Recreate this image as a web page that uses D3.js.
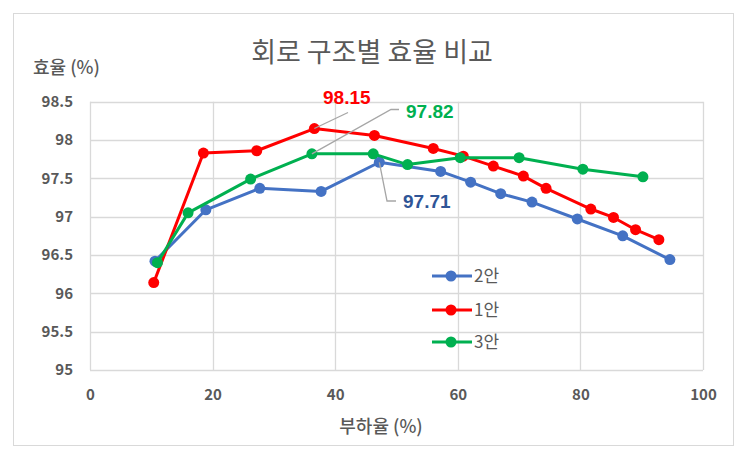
<!DOCTYPE html>
<html><head><meta charset="utf-8">
<script src="https://cdn.jsdelivr.net/npm/d3@7"></script>
<style>body{margin:0;background:#fff}svg{display:block}</style>
</head><body><svg id="c" width="743" height="458"></svg>
<script>
const seriesNames = ["2안", "1안", "3안"];
const seriesColors = ["#4472C4", "#FF0000", "#00B050"];
const load2 = [10.6, 18.9, 27.7, 37.7, 47.2, 57.2, 62.1, 67.0, 72.1, 79.5, 86.9, 94.6];
const eff2  = [96.42, 97.09, 97.37, 97.33, 97.71, 97.59, 97.45, 97.30, 97.19, 96.97, 96.75, 96.44];
const load1 = [10.4, 18.5, 27.2, 36.6, 46.4, 56.0, 60.9, 65.8, 70.7, 74.4, 81.7, 85.4, 89.0, 92.8];
const eff1  = [96.14, 97.83, 97.86, 98.15, 98.06, 97.89, 97.79, 97.66, 97.53, 97.37, 97.10, 96.99, 96.83, 96.70];
const load3 = [11.0, 16.0, 26.2, 36.2, 46.2, 51.8, 60.4, 70.0, 80.4, 90.2];
const eff3  = [96.40, 97.05, 97.49, 97.82, 97.82, 97.68, 97.77, 97.77, 97.62, 97.52];
const xTicks = [0, 20, 40, 60, 80, 100];
const yTicks = [95, 95.5, 96, 96.5, 97, 97.5, 98, 98.5];
const annotations = [
  {series: 1, index: 3, text: "98.15", color: "#FF0000"},
  {series: 2, index: 3, text: "97.82", color: "#00B050"},
  {series: 0, index: 4, text: "97.71", color: "#2F5597"}
];
const series = [
  {name: seriesNames[0], color: seriesColors[0], x: load2, y: eff2},
  {name: seriesNames[1], color: seriesColors[1], x: load1, y: eff1},
  {name: seriesNames[2], color: seriesColors[2], x: load3, y: eff3}
];

const svg = d3.select("#c");
const font = "'Noto Sans CJK KR', 'Noto Sans', sans-serif";
const grey = "#595959";

svg.append("rect").attr("x", 13.5).attr("y", 13.5).attr("width", 720).attr("height", 432)
  .attr("fill", "#fff").attr("stroke", "#d9d9d9").attr("stroke-width", 1);

const x = d3.scaleLinear().domain([0, 100]).range([90, 703]);
const y = d3.scaleLinear().domain([95, 98.5]).range([370, 101.7]);

// gridlines
const g = svg.append("g");
g.selectAll("line.h").data(yTicks).join("line")
  .attr("x1", x(0)).attr("x2", x(100)).attr("y1", d => Math.round(y(d)) + 0.5).attr("y2", d => Math.round(y(d)) + 0.5)
  .attr("stroke", "#d9d9d9").attr("stroke-width", 1.3);
g.selectAll("line.v").data(xTicks).join("line")
  .attr("y1", y(95)).attr("y2", y(98.5)).attr("x1", d => Math.round(x(d)) + 0.5).attr("x2", d => Math.round(x(d)) + 0.5)
  .attr("stroke", "#d9d9d9").attr("stroke-width", 1.3);

const xAxis = svg.append("g").attr("transform", `translate(0,${y(95)})`)
  .call(d3.axisBottom(x).tickValues(xTicks).tickSize(0).tickPadding(19));
xAxis.select(".domain").remove();
xAxis.selectAll("text").attr("font-family", font).attr("font-size", 15).attr("font-weight", 600).attr("fill", grey);

const yAxis = svg.append("g").attr("transform", `translate(${x(0)},0)`)
  .call(d3.axisLeft(y).tickValues(yTicks).tickSize(0).tickPadding(17).tickFormat(d => String(d)));
yAxis.select(".domain").remove();
yAxis.selectAll("text").attr("font-family", font).attr("font-size", 15).attr("font-weight", 600).attr("fill", grey);

// titles
svg.append("text").attr("x", 372).attr("y", 62).attr("text-anchor", "middle")
  .attr("font-family", font).attr("font-size", 27).attr("font-weight", 400).attr("fill", grey).text("회로 구조별 효율 비교");
svg.append("text").attr("x", 33).attr("y", 74)
  .attr("font-family", font).attr("font-size", 18).attr("font-weight", 500).attr("fill", grey).text("효율 (%)");
svg.append("text").attr("x", 381).attr("y", 433).attr("text-anchor", "middle")
  .attr("font-family", font).attr("font-size", 18).attr("font-weight", 500).attr("fill", grey).text("부하율 (%)");

// series
const line = d3.line().x(d => x(d[0])).y(d => y(d[1]));
series.forEach(s => {
  const pts = s.x.map((v, i) => [v, s.y[i]]);
  svg.append("path").datum(pts).attr("d", line).attr("fill", "none")
    .attr("stroke", s.color).attr("stroke-width", 3).attr("stroke-linejoin", "round");
  svg.append("g").selectAll("circle").data(pts).join("circle")
    .attr("cx", d => x(d[0])).attr("cy", d => y(d[1])).attr("r", 5.5).attr("fill", s.color);
});

// annotations with leader lines
const annLayout = [
  {lx: 348, ly: 112.5, hx: null, tx: 323, ty: 103.5},
  {lx: 391, ly: 109.5, hx: 399, tx: 406, ty: 117.5},
  {lx: 387, ly: 201, hx: 396, tx: 403, ty: 208}
];
annotations.forEach((a, k) => {
  const s = series[a.series];
  const px = x(s.x[a.index]), py = y(s.y[a.index]);
  const L = annLayout[k];
  const pts = [[px, py], [L.lx, L.ly]];
  if (L.hx !== null) pts.push([L.hx, L.ly]);
  svg.append("path").attr("d", d3.line()(pts)).attr("fill", "none").attr("stroke", "#a6a6a6").attr("stroke-width", 1.3);
  svg.append("text").attr("x", L.tx).attr("y", L.ty)
    .attr("font-family", "'Liberation Sans', Arial, sans-serif").attr("font-size", 19).attr("font-weight", "bold")
    .attr("fill", a.color).text(a.text);
});

// legend
const legY = [276, 310, 342];
series.forEach((s, k) => {
  const lg = svg.append("g");
  lg.append("line").attr("x1", 432).attr("x2", 472).attr("y1", legY[k]).attr("y2", legY[k])
    .attr("stroke", s.color).attr("stroke-width", 3);
  lg.append("circle").attr("cx", 451).attr("cy", legY[k]).attr("r", 5.5).attr("fill", s.color);
  lg.append("text").attr("x", 474).attr("y", legY[k] + 6).attr("font-family", font).attr("font-size", 17)
    .attr("fill", grey).text(s.name);
});
</script></body></html>
